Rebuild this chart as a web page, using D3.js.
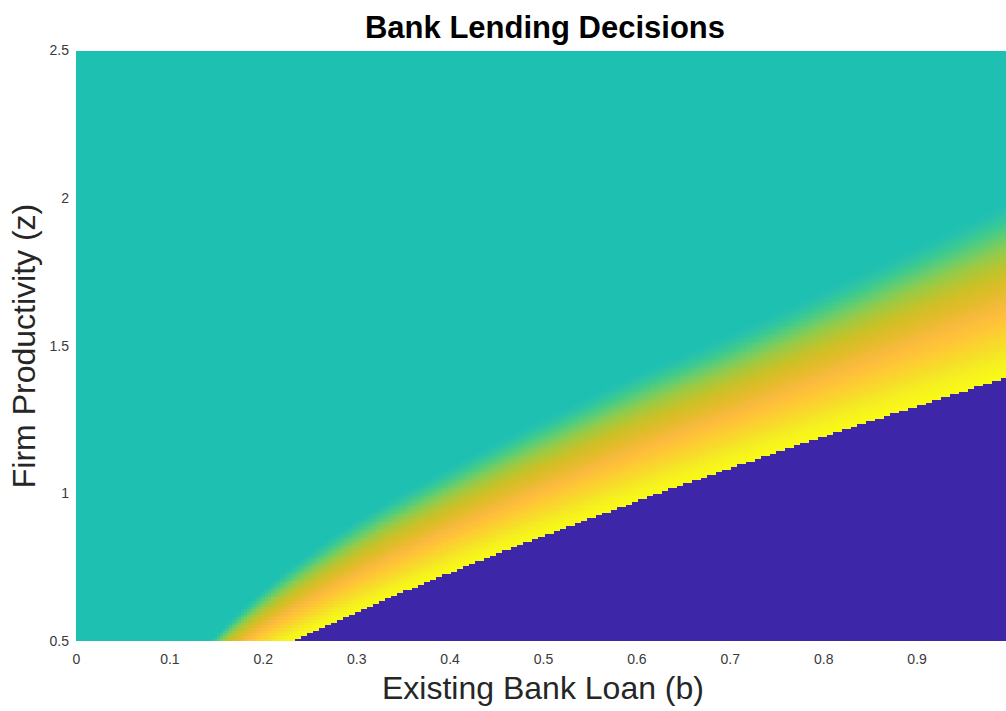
<!DOCTYPE html>
<html><head><meta charset="utf-8">
<script src="https://cdn.jsdelivr.net/npm/d3@7"></script>
<style>
body{margin:0;background:#fff}
svg{display:block}
text{font-family:"Liberation Sans",Arial,Helvetica,sans-serif}
</style>
</head><body>
<svg id="chart" width="1006" height="711"></svg>
<script>
// ---- data ----
// b values at which the two region boundaries were read
const bKnots   = [0.1, 0.2, 0.3, 0.4, 0.5, 0.6, 0.7, 0.8, 0.9, 1.0];
// productivity z below which the bank refuses (yellow / purple edge)
const defaultZ = [0.294, 0.454, 0.598, 0.731, 0.856, 0.974, 1.086, 1.193, 1.296, 1.396];
// productivity z above which the decision is the plain (teal) one
const tealZ    = [0.36, 0.675, 0.911, 1.092, 1.255, 1.408, 1.543, 1.69, 1.84, 1.99];
// value profile across the transition band (0 = default edge, 1 = teal edge)
const bandPos  = [0, 0.1, 0.2, 0.35, 0.5, 0.6, 0.73, 0.86, 0.95, 1.0];
const bandVal  = [1.0, 0.97, 0.92, 0.85, 0.79, 0.755, 0.69, 0.60, 0.53, 0.515];
const defaultVal = 0;
const tealVal = 0.515;
// grid resolution of the heat map (fine in b, coarse in z)
const nB = 311, nZ = 220;
// axis ticks
const xTicks = [0, 0.1, 0.2, 0.3, 0.4, 0.5, 0.6, 0.7, 0.8, 0.9];
const xTickLabels = ["0", "0.1", "0.2", "0.3", "0.4", "0.5", "0.6", "0.7", "0.8", "0.9"];
const yTicks = [0.5, 1, 1.5, 2, 2.5];
const yTickLabels = ["0.5", "1", "1.5", "2", "2.5"];
const title = "Bank Lending Decisions";
const xTitle = "Existing Bank Loan (b)";
const yTitle = "Firm Productivity (z)";

// parula colormap (style)
const parula = [
[0.2422,0.1504,0.6603],[0.2504,0.1650,0.7076],[0.2578,0.1818,0.7511],[0.2647,0.1978,0.7952],
[0.2706,0.2147,0.8364],[0.2751,0.2342,0.8710],[0.2783,0.2559,0.8991],[0.2803,0.2782,0.9221],
[0.2813,0.3006,0.9414],[0.2810,0.3228,0.9579],[0.2795,0.3447,0.9717],[0.2760,0.3667,0.9829],
[0.2699,0.3892,0.9906],[0.2602,0.4123,0.9952],[0.2440,0.4358,0.9988],[0.2206,0.4603,0.9973],
[0.1963,0.4847,0.9892],[0.1834,0.5074,0.9798],[0.1786,0.5289,0.9682],[0.1764,0.5499,0.9520],
[0.1687,0.5703,0.9359],[0.1540,0.5902,0.9218],[0.1460,0.6091,0.9079],[0.1380,0.6276,0.8973],
[0.1248,0.6459,0.8883],[0.1113,0.6635,0.8763],[0.0952,0.6798,0.8598],[0.0689,0.6948,0.8394],
[0.0297,0.7082,0.8163],[0.0036,0.7203,0.7917],[0.0067,0.7312,0.7660],[0.0433,0.7411,0.7394],
[0.0964,0.7500,0.7120],[0.1408,0.7584,0.6842],[0.1717,0.7670,0.6554],[0.1938,0.7758,0.6251],
[0.2161,0.7843,0.5923],[0.2470,0.7918,0.5567],[0.2906,0.7973,0.5188],[0.3406,0.8008,0.4789],
[0.3909,0.8029,0.4354],[0.4456,0.8024,0.3909],[0.5044,0.7993,0.3480],[0.5616,0.7942,0.3045],
[0.6174,0.7876,0.2612],[0.6720,0.7793,0.2227],[0.7242,0.7698,0.1910],[0.7738,0.7598,0.1646],
[0.8203,0.7498,0.1535],[0.8634,0.7406,0.1596],[0.9035,0.7330,0.1774],[0.9393,0.7288,0.2100],
[0.9728,0.7298,0.2394],[0.9956,0.7434,0.2371],[0.9970,0.7659,0.2199],[0.9952,0.7893,0.2028],
[0.9892,0.8136,0.1885],[0.9786,0.8386,0.1766],[0.9676,0.8639,0.1643],[0.9610,0.8890,0.1537],
[0.9597,0.9135,0.1423],[0.9628,0.9373,0.1265],[0.9691,0.9606,0.1064],[0.9769,0.9839,0.0805]
].map(c => d3.rgb(c[0]*255, c[1]*255, c[2]*255).toString());

const color = d3.scaleLinear()
  .domain(parula.map((_, i) => i / (parula.length - 1)))
  .range(parula)
  .interpolate(d3.interpolateRgb)
  .clamp(true);

// smooth (monotone cubic) curve through the read boundary points
function monotone(xs, ys) {
  const n = xs.length, d = [], m = new Array(n);
  for (let i = 0; i < n - 1; i++) d.push((ys[i+1] - ys[i]) / (xs[i+1] - xs[i]));
  m[0] = d[0]; m[n-1] = d[n-2];
  for (let i = 1; i < n - 1; i++) m[i] = d[i-1] * d[i] <= 0 ? 0 : (d[i-1] + d[i]) / 2;
  return t => {
    if (t <= xs[0]) return ys[0] + (t - xs[0]) * m[0];
    if (t >= xs[n-1]) return ys[n-1] + (t - xs[n-1]) * m[n-1];
    let i = d3.bisectRight(xs, t) - 1;
    const h = xs[i+1] - xs[i], s = (t - xs[i]) / h;
    const h00 = 2*s*s*s - 3*s*s + 1, h10 = s*s*s - 2*s*s + s;
    const h01 = -2*s*s*s + 3*s*s, h11 = s*s*s - s*s;
    return h00*ys[i] + h10*h*m[i] + h01*ys[i+1] + h11*h*m[i+1];
  };
}

// ---- scales ----
const x = d3.scaleLinear().domain([0, 1]).range([76, 1010]);
const y = d3.scaleLinear().domain([0.5, 2.5]).range([641, 50.5]);

const lowerAt = monotone(bKnots, defaultZ);
const upperAt = monotone(bKnots, tealZ);
const profile = d3.scaleLinear().domain(bandPos).range(bandVal).clamp(true);

// ---- build heat-map cells (runs of equal value merged per column) ----
const cells = [];
const dB = 1 / nB, dZ = 2 / nZ;
for (let i = 0; i < nB; i++) {
  const b0 = i * dB, b1 = (i + 1) * dB, bc = (b0 + b1) / 2;
  const L = lowerAt(bc), U = upperAt(bc);
  let run = null;
  for (let j = 0; j < nZ; j++) {
    const z0 = 0.5 + j * dZ, z1 = z0 + dZ, zc = (z0 + z1) / 2;
    let v;
    if (zc < L) v = defaultVal;
    else if (zc > U) v = tealVal;
    else v = profile((zc - L) / (U - L));
    if (run && run.v === v) { run.z1 = z1; }
    else { run = {b0, b1, z0, z1, v}; cells.push(run); }
  }
}

const svg = d3.select("#chart");
svg.append("defs").append("clipPath").attr("id", "plotClip")
  .append("rect").attr("x", x(0)).attr("y", y(2.5))
  .attr("width", x(1) - x(0)).attr("height", y(0.5) - y(2.5));

svg.append("g").attr("clip-path", "url(#plotClip)")
  .selectAll("rect").data(cells).join("rect")
  .attr("x", d => x(d.b0))
  .attr("y", d => y(d.z1))
  .attr("width", d => x(d.b1) - x(d.b0) + 0.4)
  .attr("height", d => y(d.z0) - y(d.z1) + 0.4)
  .attr("fill", d => color(d.v))
  .attr("shape-rendering", "crispEdges");

// ---- axes (labels only, tick marks hidden under the image) ----
const xAxis = d3.axisBottom(x).tickValues(xTicks)
  .tickFormat((d, i) => xTickLabels[i]).tickSize(0).tickPadding(13);
const gx = svg.append("g").attr("transform", `translate(0,${y(0.5)})`).call(xAxis);
gx.select(".domain").remove();
gx.selectAll("text").attr("font-size", 14).attr("fill", "#3a3a3a")
  .attr("font-family", '"Liberation Sans", Arial, sans-serif');

const yAxis = d3.axisLeft(y).tickValues(yTicks)
  .tickFormat((d, i) => yTickLabels[i]).tickSize(0).tickPadding(7);
const gy = svg.append("g").attr("transform", `translate(${x(0)},0)`).call(yAxis);
gy.select(".domain").remove();
gy.selectAll("text").attr("font-size", 14).attr("fill", "#3a3a3a")
  .attr("font-family", '"Liberation Sans", Arial, sans-serif');

// ---- titles ----
svg.append("text").attr("x", 545).attr("y", 37.5)
  .attr("text-anchor", "middle").attr("font-size", 31).attr("font-weight", "bold")
  .attr("fill", "#000").text(title);

svg.append("text").attr("x", 543).attr("y", 699)
  .attr("text-anchor", "middle").attr("font-size", 32)
  .attr("fill", "#262626").text(xTitle);

svg.append("text").attr("transform", "translate(35,346) rotate(-90)")
  .attr("text-anchor", "middle").attr("font-size", 32)
  .attr("fill", "#262626").text(yTitle);
</script>
</body></html>
